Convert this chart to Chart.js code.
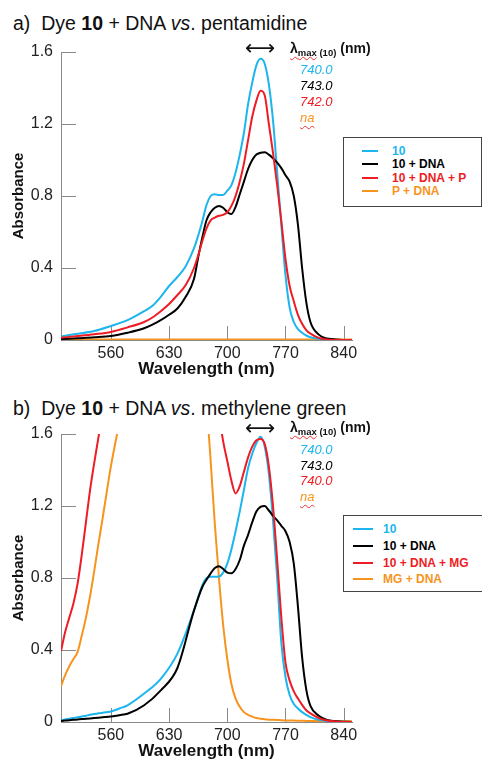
<!DOCTYPE html>
<html>
<head>
<meta charset="utf-8">
<script src="https://cdn.jsdelivr.net/npm/chart.js@4.4.1/dist/chart.umd.min.js"></script>
<style>
  body { margin:0; width:482px; height:760px; overflow:hidden; background:#fff;
         font-family:"Liberation Sans", Arial, sans-serif; position:relative; color:#111; }
  canvas { position:absolute; left:0; }
  .title { position:absolute; left:13px; font-size:19.5px; line-height:24px; white-space:nowrap; }
  .arrow { position:absolute; left:245px; font-family:"DejaVu Sans", sans-serif; font-size:21px; line-height:20px; }
  .lhead { position:absolute; left:290px; font-size:14px; font-weight:bold; line-height:18px; white-space:nowrap; }
  .lhead sub { font-size:9.5px; vertical-align:-3px; }
  .sq { text-decoration:underline wavy #e33; text-decoration-thickness:1px; text-underline-offset:3px; }
  .lvals { position:absolute; left:300px; font-size:13px; font-style:italic; }
  .legend { position:absolute; left:343px; border:1px solid #444; background:#fff; font-size:12px; font-weight:bold; box-sizing:border-box; }
  .legend .row { display:flex; align-items:center; white-space:nowrap; }
  .legend .mark { display:inline-block; height:2px; }
</style>
</head>
<body>

<div class="title" style="top:11px">a)&nbsp; Dye <b>10</b> + DNA <i>vs</i>. pentamidine</div>
<canvas id="chartA" width="482" height="350" style="top:30px"></canvas>
<div class="arrow" style="top:38px">⟷</div>
<div class="lhead" style="top:39px"><span class="sq">λ<sub>max</sub></span><sub> (10)</sub> (nm)</div>
<div class="lvals" id="valsA" style="top:62px; line-height:16px"></div>
<div class="legend" id="legendA" style="top:137px; width:139px; height:70px; padding-top:6px"></div>

<div class="title" style="top:396px">b)&nbsp; Dye <b>10</b> + DNA <i>vs</i>. methylene green</div>
<canvas id="chartB" width="482" height="350" style="top:412px"></canvas>
<div class="arrow" style="top:418px">⟷</div>
<div class="lhead" style="top:418px"><span class="sq">λ<sub>max</sub></span><sub> (10)</sub> (nm)</div>
<div class="lvals" id="valsB" style="top:442px; line-height:15.5px"></div>
<div class="legend" id="legendB" style="top:515px; width:146px; height:77px; padding-top:5px"></div>

<script>
// wavelength grid (nm), panel a
const wlA = [500,520,540,560,580,600,610,620,630,640,650,660,665,670,675,680,685,690,695,700,
             705,710,715,720,725,730,735,740,745,750,755,760,765,770,775,780,785,790,795,800,
             810,820,835,850];
const dyeA = [0.02,0.035,0.05,0.078,0.11,0.16,0.19,0.24,0.30,0.35,0.41,0.51,0.58,0.66,0.75,0.80,0.81,0.805,0.805,0.83,
              0.86,0.93,1.03,1.15,1.31,1.43,1.526,1.562,1.535,1.42,1.22,0.93,0.64,0.36,0.18,0.10,0.06,0.04,0.025,0.015,
              0.006,0.002,0,0];
const dyeDnaA = [0.005,0.01,0.015,0.022,0.04,0.065,0.085,0.11,0.14,0.175,0.24,0.34,0.46,0.57,0.665,0.71,0.735,0.745,0.735,0.71,
                 0.70,0.74,0.81,0.88,0.95,1.0,1.03,1.04,1.043,1.03,1.01,0.985,0.955,0.915,0.88,0.80,0.64,0.40,0.21,0.10,
                 0.03,0.008,0.002,0];
const dyeDnaPA = [0.013,0.022,0.032,0.045,0.07,0.10,0.125,0.16,0.20,0.25,0.305,0.40,0.47,0.55,0.62,0.665,0.68,0.69,0.695,0.71,
                  0.745,0.80,0.88,0.98,1.11,1.24,1.33,1.385,1.36,1.20,1.04,0.86,0.66,0.45,0.30,0.215,0.14,0.09,0.055,0.035,
                  0.012,0.003,0,0];
const pDnaA = [0.003,0.003,0.003,0.003,0.003,0.003,0.003,0.003,0.003,0.003,0.003,0.003,0.003,0.003,0.003,0.003,0.003,0.003,0.003,0.003,
               0.003,0.003,0.003,0.003,0.003,0.003,0.003,0.003,0.003,0.003,0.003,0.003,0.003,0.003,0.003,0.003,0.003,0.003,0.003,0.003,
               0.003,0.003,0.003,0.003];

// wavelength grid (nm), panel b
const wlB = [500,505,510,515,520,525,530,535,540,545,550,560,570,580,600,620,640,660,670,675,
             680,685,690,695,700,705,710,715,720,725,730,735,740,745,750,755,760,765,770,775,
             780,785,790,795,800,810,820,835,850];
const dyeB = [0.01,0.014,0.018,0.022,0.026,0.03,0.035,0.04,0.044,0.048,0.052,0.058,0.075,0.093,0.158,0.24,0.38,0.62,0.76,0.80,
              0.807,0.807,0.808,0.83,0.88,0.96,1.06,1.17,1.29,1.41,1.49,1.55,1.585,1.53,1.38,1.12,0.80,0.44,0.25,0.15,
              0.10,0.075,0.055,0.04,0.027,0.012,0.005,0.001,0];
const dyeDnaB = [0.006,0.008,0.01,0.012,0.014,0.016,0.018,0.02,0.022,0.024,0.026,0.03,0.038,0.046,0.093,0.176,0.30,0.62,0.75,0.79,
                 0.826,0.855,0.865,0.85,0.83,0.826,0.85,0.90,0.98,1.04,1.11,1.17,1.195,1.20,1.175,1.145,1.12,1.09,1.06,1.0,
                 0.88,0.64,0.36,0.18,0.09,0.035,0.012,0.003,0];
const dyeDnaMgB = [0.395,0.50,0.58,0.66,0.77,0.93,1.11,1.29,1.44,1.58,1.72,2.0,2.3,2.6,3.0,3.2,3.3,3.0,2.6,2.4,
                   2.15,1.95,1.72,1.56,1.45,1.34,1.27,1.31,1.39,1.47,1.53,1.565,1.572,1.545,1.42,1.20,0.90,0.58,0.33,0.23,
                   0.17,0.13,0.095,0.065,0.048,0.022,0.008,0.002,0];
const mgDnaB = [0.199,0.26,0.31,0.35,0.39,0.48,0.58,0.70,0.84,0.99,1.13,1.42,1.66,1.9,2.3,2.6,2.7,2.5,2.05,1.78,
                1.45,1.10,0.80,0.54,0.35,0.21,0.13,0.085,0.055,0.04,0.03,0.022,0.018,0.015,0.013,0.012,0.011,0.01,0.009,0.008,
                0.008,0.007,0.007,0.006,0.006,0.005,0.005,0.004,0.004];

const namesA = ['10', '10 + DNA', '10 + DNA + P', 'P + DNA'];
const namesB = ['10', '10 + DNA', '10 + DNA + MG', 'MG + DNA'];
const lmaxA = ['740.0', '743.0', '742.0', 'na'];
const lmaxB = ['740.0', '743.0', '740.0', 'na'];
const colors = ['#1cb5ee', '#000000', '#ee1c24', '#f7941e'];
const drawOrder = [2, 1, 0, 3];   // higher draws first (underneath)

const xTicks = [560, 630, 700, 770, 840];
const yTicks = [0, 0.4, 0.8, 1.2, 1.6];
const axisColor = '#8a8a8a';

Chart.defaults.font.family = '"Liberation Sans", Arial, sans-serif';

// short tick marks pointing into the plot area
const inwardTicks = {
  id: 'inwardTicks',
  beforeDatasetsDraw(chart) {
    const { ctx, chartArea: a, scales: { x, y } } = chart;
    ctx.save();
    ctx.strokeStyle = axisColor;
    ctx.lineWidth = 1;
    ctx.beginPath();
    x.ticks.forEach(t => {
      const px = Math.round(x.getPixelForValue(t.value)) + 0.5;
      ctx.moveTo(px, a.bottom);
      ctx.lineTo(px, a.bottom - 14);
    });
    y.ticks.forEach(t => {
      if (t.value === 0) return;
      const py = Math.round(y.getPixelForValue(t.value)) + 0.5;
      ctx.moveTo(a.left, py);
      ctx.lineTo(a.left + 15, py);
    });
    ctx.stroke();
    ctx.restore();
  }
};

function makeChart(id, wl, seriesList, names) {
  const datasets = seriesList.map((vals, i) => ({
    label: names[i],
    data: wl.map((w, j) => ({ x: w, y: vals[j] })),
    borderColor: colors[i],
    borderWidth: 2,
    pointRadius: 0,
    cubicInterpolationMode: 'monotone',
    order: drawOrder[i]
  }));
  new Chart(document.getElementById(id), {
    type: 'line',
    data: { datasets },
    plugins: [inwardTicks],
    options: {
      responsive: false,
      animation: false,
      layout: { padding: { top: 22, right: 130, left: 0, bottom: 0 } },
      plugins: { legend: { display: false }, tooltip: { enabled: false } },
      scales: {
        x: {
          type: 'linear', min: 500, max: 850,
          afterBuildTicks: s => { s.ticks = xTicks.map(v => ({ value: v })); },
          afterFit: s => { s.height = 40; },
          grid: { drawOnChartArea: false, drawTicks: false },
          border: { color: axisColor, width: 1 },
          ticks: { color: '#222', font: { size: 16 }, padding: 4, maxRotation: 0 },
          title: { display: true, text: 'Wavelength (nm)', color: '#111',
                   font: { size: 17, weight: 'bold' }, padding: { top: 0, bottom: 0 } }
        },
        y: {
          min: 0, max: 1.6,
          afterBuildTicks: s => { s.ticks = yTicks.map(v => ({ value: v })); },
          afterFit: s => { s.width = 61; },
          grid: { drawOnChartArea: false, drawTicks: false },
          border: { color: axisColor, width: 1 },
          ticks: { color: '#222', font: { size: 16 }, padding: 8,
                   callback: v => String(v) },
          title: { display: true, text: 'Absorbance', color: '#111',
                   font: { size: 15, weight: 'bold' }, padding: { top: 10, bottom: 0 } }
        }
      }
    }
  });
}

function fillLegend(id, names, lineW, lineGap, textGap, rowH) {
  const box = document.getElementById(id);
  names.forEach((n, i) => {
    const row = document.createElement('div');
    row.className = 'row';
    row.style.height = rowH + 'px';
    row.style.paddingLeft = lineGap + 'px';
    const mark = document.createElement('span');
    mark.className = 'mark';
    mark.style.width = lineW + 'px';
    mark.style.background = colors[i];
    mark.style.marginRight = textGap + 'px';
    const txt = document.createElement('span');
    txt.textContent = n;
    txt.style.color = colors[i];
    row.appendChild(mark);
    row.appendChild(txt);
    box.appendChild(row);
  });
}

function fillLmax(id, vals) {
  const el = document.getElementById(id);
  vals.forEach((v, i) => {
    const d = document.createElement('div');
    d.textContent = v;
    d.style.color = colors[i];
    if (v === 'na') { d.innerHTML = '<span class="sq">na</span>'; }
    el.appendChild(d);
  });
}

makeChart('chartA', wlA, [dyeA, dyeDnaA, dyeDnaPA, pDnaA], namesA);
makeChart('chartB', wlB, [dyeB, dyeDnaB, dyeDnaMgB, mgDnaB], namesB);
fillLegend('legendA', namesA, 16, 18, 14, 13.5);
fillLegend('legendB', namesB, 20, 9, 10, 16.7);
fillLmax('valsA', lmaxA);
fillLmax('valsB', lmaxB);
</script>
</body>
</html>
